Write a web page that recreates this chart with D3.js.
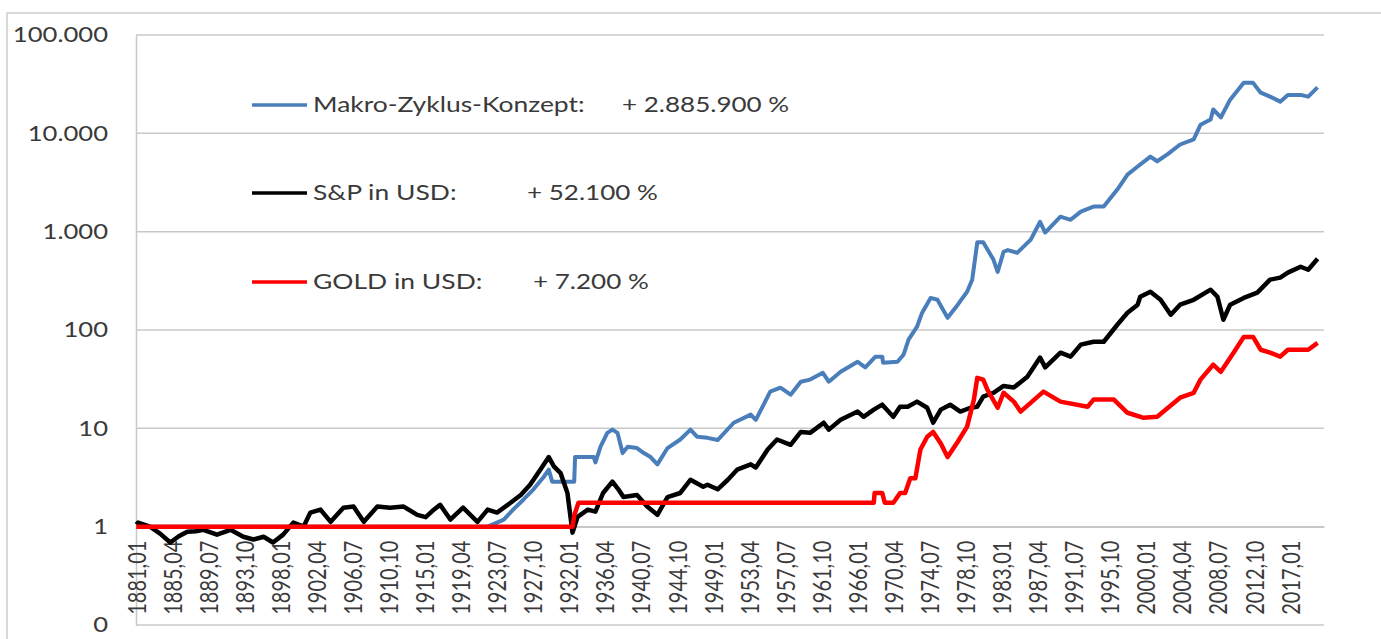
<!DOCTYPE html>
<html>
<head>
<meta charset="utf-8">
<script src="https://cdn.jsdelivr.net/npm/d3@7/dist/d3.min.js"></script>
<style>
  body { margin: 0; background: #fff; }
  text { font-family: Lato, "Open Sans", sans-serif; fill: #3a3a3a; }
</style>
</head>
<body>
<svg id="chart" width="1381" height="639"></svg>
<script>
// monthly category axis 1881,01 .. 2020,12
var startYear = 1881;
var monthCount = 1680;

var xLabels = ["1881,01","1885,04","1889,07","1893,10","1898,01","1902,04","1906,07","1910,10",
  "1915,01","1919,04","1923,07","1927,10","1932,01","1936,04","1940,07","1944,10","1949,01",
  "1953,04","1957,07","1961,10","1966,01","1970,04","1974,07","1978,10","1983,01","1987,04",
  "1991,07","1995,10","2000,01","2004,04","2008,07","2012,10","2017,01"];

var yTicks = [100000, 10000, 1000, 100, 10, 1, 0.1];

// [year, index value]
var makro = [[1881.0,1],[1922.4,1],[1923.5,1.1],[1924.3,1.18],[1925.4,1.49],[1926.6,1.88],
  [1927.8,2.4],[1929.0,3.2],[1929.6,3.8],[1930.0,2.87],[1932.6,2.87],[1932.7,5.1],[1934.9,5.1],
  [1935.1,4.5],[1935.7,6.5],[1936.5,9.0],[1937.1,9.7],[1937.7,9.0],[1938.3,5.6],[1938.9,6.5],
  [1940.0,6.3],[1940.8,5.6],[1941.6,5.1],[1942.4,4.3],[1943.6,6.3],[1945.1,7.7],[1946.3,9.7],
  [1947.1,8.2],[1948.3,8.0],[1949.5,7.6],[1951.4,11.4],[1953.4,13.8],[1954.0,12.2],[1955.7,23.6],
  [1956.9,25.9],[1958.1,22],[1959.3,29.8],[1960.4,31.3],[1961.9,36.7],[1962.6,29.8],[1964.0,37.6],
  [1966.0,47.5],[1966.9,41.7],[1968.1,53.6],[1968.9,53.6],[1969.0,46.5],[1970.7,47.5],[1971.4,56],
  [1972.0,80],[1973.0,108],[1973.6,150],[1974.6,212],[1975.4,203],[1976.6,133],[1977.8,181],
  [1978.9,245],[1979.5,325],[1980.1,780],[1980.8,780],[1982.0,520],[1982.5,390],[1983.2,625],
  [1983.7,650],[1984.8,610],[1986.4,830],[1987.5,1260],[1988.1,980],[1989.9,1420],[1991.1,1320],
  [1992.3,1600],[1993.8,1800],[1995.0,1800],[1996.6,2680],[1997.8,3800],[1999.0,4600],
  [2000.5,5800],[2001.3,5200],[2002.5,6100],[2004.0,7700],[2005.6,8700],[2006.4,12200],
  [2007.6,13800],[2007.9,17500],[2008.8,14500],[2009.9,22000],[2011.5,32600],[2012.6,32600],
  [2013.5,25900],[2014.6,23600],[2015.8,21000],[2016.7,24600],[2018.2,24600],[2019.1,23600],
  [2020.2,29300]];

var sp = [[1881.0,1.05],[1881.2,1.1],[1882.6,1.0],[1883.8,0.85],[1885.0,0.69],[1886.0,0.8],
  [1887.0,0.89],[1888.0,0.9],[1888.9,0.93],[1890.5,0.83],[1892.1,0.93],[1893.6,0.79],
  [1894.8,0.74],[1896.0,0.79],[1897.1,0.69],[1898.3,0.83],[1899.5,1.1],[1900.7,1.0],
  [1901.5,1.39],[1902.7,1.49],[1903.9,1.12],[1905.4,1.56],[1906.6,1.6],[1907.8,1.12],
  [1909.4,1.6],[1910.9,1.56],[1912.5,1.6],[1914.1,1.32],[1915.1,1.25],[1915.9,1.45],
  [1916.8,1.67],[1918.0,1.18],[1919.5,1.56],[1921.2,1.12],[1922.4,1.49],[1923.5,1.39],
  [1925.1,1.75],[1926.3,2.1],[1927.4,2.67],[1928.6,3.8],[1929.6,5.1],[1930.2,4.1],[1931.0,3.5],
  [1931.8,2.2],[1932.4,0.87],[1933.0,1.26],[1934.2,1.49],[1935.1,1.42],[1936.0,2.2],[1937.1,2.87],
  [1937.8,2.4],[1938.4,2.0],[1940.0,2.1],[1941.2,1.6],[1942.4,1.32],[1943.6,2.0],[1945.1,2.2],
  [1946.3,3.0],[1947.8,2.55],[1948.3,2.67],[1949.5,2.4],[1950.7,3.0],[1951.8,3.8],[1953.4,4.3],
  [1954.0,4.0],[1955.4,6.1],[1956.5,7.7],[1958.1,6.8],[1959.3,9.2],[1960.4,9.0],[1962.0,11.4],
  [1962.6,9.7],[1964.0,12.2],[1966.0,14.8],[1966.7,13.1],[1967.9,15.5],[1968.9,17.4],
  [1970.2,13.1],[1971.0,16.6],[1971.9,16.6],[1973.0,18.7],[1974.2,16.2],[1974.9,11.4],
  [1975.8,15.5],[1976.9,17.4],[1978.1,14.8],[1979.3,16.2],[1980.1,16.6],[1980.8,21],[1982.0,23],
  [1983.2,27],[1984.4,26],[1986.0,33.5],[1987.5,52.5],[1988.1,41.7],[1989.9,58.8],[1991.1,53.6],
  [1992.3,71],[1993.8,76],[1995.0,76],[1996.6,113],[1997.8,150],[1999.0,181],[1999.3,218],
  [2000.5,245],[2001.7,203],[2002.9,143],[2004.0,181],[2005.6,203],[2007.6,257],[2008.4,218],
  [2009.1,127],[2009.9,181],[2011.5,212],[2013.1,240],[2014.6,325],[2015.8,341],[2016.7,383],
  [2018.2,440],[2019.1,410],[2020.2,530]];

var gold = [[1881.0,1],[1932.4,1],[1932.6,1.3],[1933.1,1.75],[1967.9,1.75],[1968.0,2.2],
  [1968.9,2.2],[1969.2,1.75],[1970.2,1.75],[1970.5,1.9],[1971.0,2.2],[1971.6,2.2],[1972.2,3.1],
  [1972.8,3.1],[1973.4,6.1],[1974.2,8.2],[1974.9,9.2],[1975.8,7.0],[1976.6,5.1],[1977.8,7.3],
  [1978.9,10.4],[1979.7,19.6],[1980.1,32.6],[1980.8,31.3],[1981.3,24.6],[1982.5,16.2],
  [1983.2,23],[1984.4,18.7],[1985.2,14.8],[1987.9,23.6],[1989.9,18.7],[1993.1,16.6],
  [1993.8,19.6],[1996.2,19.6],[1997.8,14.4],[1999.7,12.8],[2001.3,13.1],[2004.0,20.5],
  [2005.6,23],[2006.4,31.3],[2007.9,44.4],[2008.8,37.6],[2010.3,58.8],[2011.5,85],[2012.6,85],
  [2013.5,63],[2014.6,58.8],[2015.8,53.6],[2016.7,63],[2018.2,63],[2019.1,63],[2020.2,74]];

var legendNames = ["Makro-Zyklus-Konzept:", "S&P in USD:", "GOLD in USD:"];
var legendValues = ["+ 2.885.900 %", "+ 52.100 %", "+ 7.200 %"];

var svg = d3.select("#chart");

svg.append("rect")
    .attr("x", 7).attr("y", 13)
    .attr("width", 1400).attr("height", 700)
    .attr("fill", "none").attr("stroke", "#d9d9d9").attr("stroke-width", 2);

var x = d3.scaleLinear().domain([0, monthCount]).range([136, 1324]);
var y = d3.scaleLog().domain([0.1, 100000]).range([625, 35]);

function monthPos(yr){ return x((yr - startYear) * 12 + 0.5); }

var de = d3.formatLocale({decimal: ",", thousands: ".", grouping: [3], currency: ["", "€"]});
var fmt = de.format(",.0f");

// gridlines
svg.append("g").selectAll("line")
    .data(yTicks)
    .enter().append("line")
    .attr("x1", 136).attr("x2", 1324)
    .attr("y1", function(d){ return y(d); })
    .attr("y2", function(d){ return y(d); })
    .attr("stroke", "#c8c8c8").attr("stroke-width", 1.5);

// y axis
var yAxis = svg.append("g")
    .attr("transform", "translate(136,0)")
    .call(d3.axisLeft(y).tickValues(yTicks).tickFormat(fmt).tickSize(0));
yAxis.select(".domain").attr("stroke", "#c8c8c8").attr("stroke-width", 1.5);
yAxis.selectAll("text")
    .attr("x", 0)
    .attr("transform", "translate(-28,0) scale(1.22,1)")
    .style("font-size", "21px")
    .attr("fill", "#3a3a3a");

// x axis crosses at 1
var labelIdx = xLabels.map(function(s){
    var p = s.split(",");
    return (+p[0] - startYear) * 12 + (+p[1] - 1) + 0.5;
});
var xAxis = svg.append("g")
    .attr("transform", "translate(0," + y(1) + ")")
    .call(d3.axisBottom(x).tickValues(labelIdx)
        .tickFormat(function(d, i){ return xLabels[i]; })
        .tickSize(0).tickSizeOuter(0));
xAxis.select(".domain").attr("stroke", "#c8c8c8").attr("stroke-width", 1.5);
xAxis.selectAll("text")
    .attr("x", 0).attr("y", 0).attr("dy", "0.35em")
    .attr("text-anchor", "end")
    .attr("transform", "translate(0,14) scale(1.24,1) rotate(-90)")
    .style("font-size", "20px")
    .attr("fill", "#3a3a3a");

// lines
var line = d3.line()
    .x(function(d){ return monthPos(d[0]); })
    .y(function(d){ return y(d[1]); })
    .curve(d3.curveLinear);

var series = [
    {data: makro, color: "#4a7ebb", width: 4},
    {data: sp, color: "#000000", width: 4.5},
    {data: gold, color: "#ff0000", width: 4.5}
];

svg.append("g").selectAll("path")
    .data(series)
    .enter().append("path")
    .attr("d", function(d){ return line(d.data); })
    .attr("fill", "none")
    .attr("stroke", function(d){ return d.color; })
    .attr("stroke-width", function(d){ return d.width; })
    .attr("stroke-linejoin", "round");

// legend inside plot
var legendY = [105, 193, 282];
var valueX = [622, 527, 533];
var leg = svg.append("g").selectAll("g")
    .data(series)
    .enter().append("g")
    .attr("transform", function(d, i){ return "translate(252," + legendY[i] + ")"; });
leg.append("line")
    .attr("x1", 0).attr("x2", 55)
    .attr("stroke", function(d){ return d.color; })
    .attr("stroke-width", 3.5);
leg.append("text")
    .attr("transform", "translate(61,0) scale(1.26,1)")
    .attr("dy", "0.35em")
    .style("font-size", "21px")
    .text(function(d, i){ return legendNames[i]; });
leg.append("text")
    .attr("transform", function(d, i){ return "translate(" + (valueX[i] - 252) + ",0) scale(1.24,1)"; })
    .attr("dy", "0.35em")
    .style("font-size", "21px")
    .text(function(d, i){ return legendValues[i]; });
</script>
</body>
</html>
